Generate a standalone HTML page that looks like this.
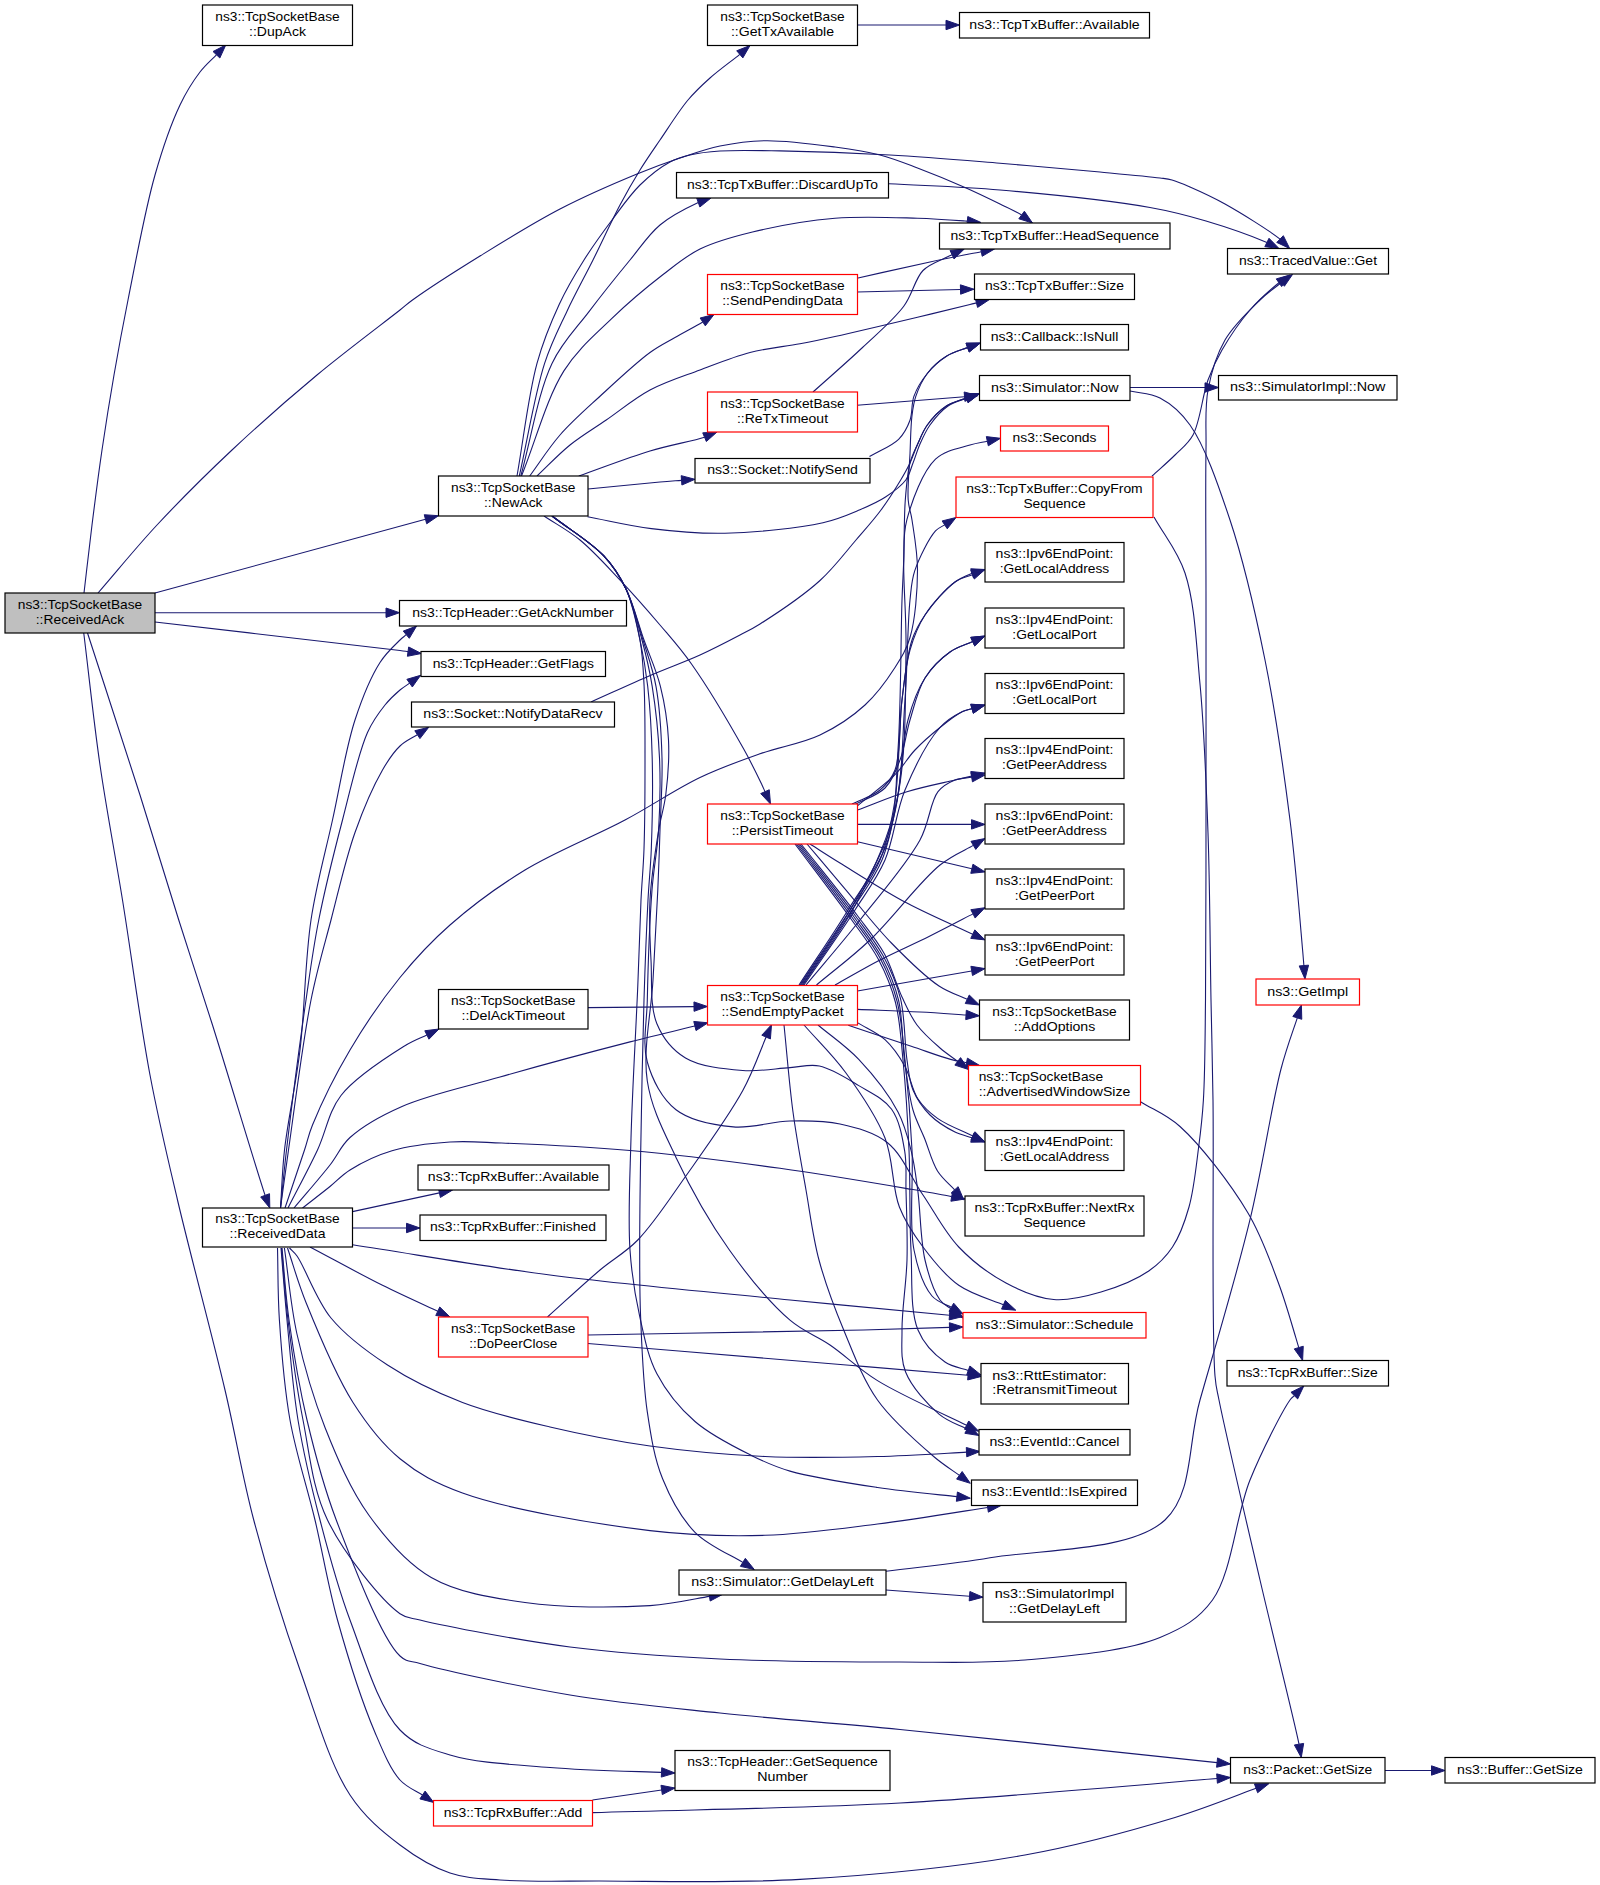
<!DOCTYPE html>
<html><head><meta charset="utf-8"><title>ns3::TcpSocketBase::ReceivedAck call graph</title>
<style>html,body{margin:0;padding:0;background:#fff;}svg{display:block;font-family:"Liberation Sans",sans-serif;}</style>
</head><body>
<svg width="1600" height="1885" viewBox="0 0 1600 1885">
<rect width="1600" height="1885" fill="#fff"/>
<g fill="none" stroke="#191970" stroke-width="1.1">
<path d="M84,593 C86.67,570.33 89.09,548.21 92,525 C95.06,500.6 98.34,474.98 102,450 C105.67,424.98 109.67,399.97 114,375 C118.34,349.97 122.34,328.13 128,300 C135.33,263.58 144.9,210.39 155,175 C162.7,148.02 171.13,123.64 180,105 C186.39,91.57 193.16,80.93 200,72 C205.37,64.98 211.73,59.7 216.43,54.77"/>
<path d="M98,593 C117.67,570.33 135.72,547.84 157,525 C180.1,500.21 205.82,474.6 232,450 C259.07,424.57 288.49,398.71 317,375 C344.5,352.13 384.55,322.23 400,310 C406.02,305.23 406.53,304.32 412.5,300 C425.9,290.31 456.37,270.63 480,256 C505.36,240.3 533.22,222.9 560,209 C585.57,195.73 614.91,183.12 637,174 C653.27,167.28 665.85,162.75 680,158 C693.5,153.47 706.07,148.87 720,146 C734.67,142.98 749.11,140.9 766,140.7 C786.67,140.46 814.5,144.25 835,147 C851.65,149.24 865.82,151.31 880,155 C893.21,158.44 904.34,163.02 917.5,168 C932.47,173.66 950.45,181.09 965,187.5 C977.63,193.07 989.77,198.98 1000,204 C1008.1,207.97 1015.75,211.4 1021.61,215.02"/>
<path d="M155,593 L425.48,519.25"/>
<path d="M155,612.7 L386,612.7"/>
<path d="M155,622 C236.67,631.5 374.97,647.29 400,650.5 C404.54,651.08 405.01,651.2 408.03,651.63"/>
<path d="M87.5,633 C105,687 123.97,744.45 140,795 C154.05,839.32 166.18,880.18 178.75,920 C190.29,956.56 200.13,985.75 212.5,1025 C228.23,1074.91 256.9,1171.05 265.12,1195.34"/>
<path d="M83.75,633 C89.17,677 93.6,720.82 100,765 C106.49,809.82 114.74,852.07 122.5,900 C131.33,954.53 139.96,1021.7 150,1075 C158.53,1120.3 166.71,1154.07 177.5,1200 C190.85,1256.81 211.47,1332.57 225,1390 C236.15,1437.35 241.95,1475.36 253.75,1520 C266.56,1568.47 283.24,1622.6 300,1670 C315.52,1713.9 329.66,1764.16 350,1795 C364.74,1817.35 382.36,1831.65 400,1845 C415.88,1857.02 432.77,1867.2 450,1873 C466.17,1878.45 480.42,1878.54 500,1880 C527.56,1882.06 560.95,1880.96 600,1881 C655.23,1881.06 731.47,1883.38 800,1879.4 C872.9,1875.17 957.94,1866.96 1025,1855 C1080.43,1845.11 1132.9,1830.3 1175,1817.5 C1206.42,1807.94 1240.72,1793.84 1256.05,1788.32"/>
<path d="M280.5,1208 C281.83,1188.67 282.05,1171.89 284.5,1150 C287.73,1121.12 295.74,1085.6 300,1050 C304.84,1009.58 304.99,960.32 311,920 C316.33,884.3 325.17,853.32 332.5,820 C339.84,786.65 345.73,748.38 355,720 C362.25,697.8 370.91,676.74 380,662.5 C386.3,652.63 395.08,644.79 400,640 C402.57,637.5 403.93,636.69 406.28,634.7"/>
<path d="M280.5,1208 C282.5,1188.67 283.72,1173.82 286.5,1150 C290.98,1111.64 299.9,1042.17 306,1000 C310.46,969.14 313.19,948.04 318.75,920 C325.01,888.41 334.1,852.13 342.5,820 C350.4,789.77 358.28,753 367.5,732.5 C373.02,720.23 378.96,712.52 385,705 C389.87,698.93 395.4,693.89 400,690 C403.43,687.1 406.3,685.5 409.61,683.14"/>
<path d="M280.5,1208 C283.17,1188.67 285.07,1173.83 288.5,1150 C294.02,1111.65 302.61,1042.04 311,1000 C317.18,969 323.86,947.22 331,920 C338.48,891.45 345.63,858.91 355,832.5 C363.13,809.59 373.53,785.59 382.5,770 C388.42,759.72 393.57,752.1 400,746 C405.38,740.9 412.21,738.04 417.39,734.67"/>
<path d="M288,1208 C297.83,1188.67 308.5,1169.17 317.5,1150 C326.09,1131.69 328.39,1111.82 341,1095.5 C355.69,1076.49 388.32,1056.14 404.5,1046 C413.51,1040.35 420.56,1038.08 426.89,1034.97"/>
<path d="M294,1208 C306,1193.67 319.93,1177.89 330,1165 C337.84,1154.96 340.63,1146.07 350,1137.5 C362.51,1126.06 381.27,1115.54 402,1106.4 C428.93,1094.53 464.96,1086.99 500,1077 C540.2,1065.54 594.07,1051.15 630,1041.9 C655.3,1035.39 681.47,1029.3 694.89,1026.01"/>
<path d="M302.5,1208 C311.67,1200.83 321.6,1193.25 330,1186.5 C337.24,1180.69 341.7,1175.2 350,1170 C361.08,1163.06 376.52,1155.41 392,1150.8 C409.45,1145.6 431.18,1143.24 450,1142 C467.65,1140.84 480.56,1142.18 501.6,1143 C534.82,1144.29 585.6,1146.57 630,1150.5 C678.12,1154.76 731.73,1161.58 780,1168.3 C825.28,1174.61 880.03,1183.99 911.25,1189.3 C928.61,1192.26 941.89,1194.83 951.71,1196.6"/>
<path d="M352.5,1211.6 L439.4,1192.85"/>
<path d="M352.5,1228 L406.5,1228"/>
<path d="M352.5,1244.8 C418.33,1254.87 480.85,1266.12 550,1275 C625.99,1284.76 718.12,1292.83 790,1300 C848.58,1305.84 925.63,1312.94 949.56,1315.22"/>
<path d="M310,1247 C334.17,1259.77 359.84,1274 382.5,1285.3 C402.05,1295.05 425.99,1305.73 437.78,1311.26"/>
<path d="M289.5,1248 C292,1250.67 293.95,1251.79 297,1256 C304.76,1266.7 316.13,1299.96 331,1318 C346.16,1336.39 366.46,1351.25 387.5,1365 C409.98,1379.69 436.02,1392.28 462.5,1402.5 C490.06,1413.14 519.7,1419.89 550,1427 C582.07,1434.52 615.38,1441.14 650,1446 C686.87,1451.17 726.84,1454.76 765,1456.5 C802.67,1458.22 842.2,1457.36 877.5,1456.5 C908.92,1455.73 949.89,1452.97 966.52,1452.16"/>
<path d="M287.5,1248 C293.67,1266.17 297.68,1281.86 306,1302.5 C317.53,1331.09 335.37,1374.85 353,1402.5 C367.36,1425.02 381.58,1443.61 400,1458.75 C418.16,1473.68 435.1,1483.01 462.5,1493 C507.38,1509.36 594.87,1523.99 650,1530.6 C692.77,1535.73 726.92,1536.43 765,1535.3 C802.75,1534.18 840.25,1528.66 877.5,1524 C914.47,1519.38 968.69,1510.34 987.65,1507.5"/>
<path d="M284.4,1248 C288.57,1276.58 290.48,1304.77 296.9,1333.75 C303.72,1364.55 313.02,1397.29 325,1427.5 C336.97,1457.7 350.41,1489.55 368.75,1515 C386.19,1539.19 406.02,1562.96 431.25,1577.5 C457.68,1592.74 491.2,1597.64 525,1602.5 C563.38,1608.01 616.07,1607.8 650,1605.6 C673.54,1604.08 696.72,1598.35 709.46,1596.37"/>
<path d="M281.5,1248 C283.67,1272 284.89,1294.08 288,1320 C291.68,1350.65 296.46,1386.82 303,1420 C309.6,1453.48 312.41,1488.7 327.5,1520 C343.69,1553.59 381.68,1601.01 400,1613.75 C407.7,1619.11 410.12,1617.58 420,1620 C446.64,1626.53 519.84,1640.5 570,1647 C619.84,1653.46 667.68,1656.47 720,1659 C777.23,1661.76 845.45,1661.98 900,1662 C945.45,1662.02 982.68,1663.84 1025,1660 C1069.28,1655.98 1126.57,1651.35 1160,1637.5 C1182.95,1627.99 1198.57,1619.24 1212.5,1600 C1231.95,1573.14 1235.71,1515.45 1250,1480 C1262.06,1450.1 1282.88,1409.96 1290,1400 C1291.87,1397.39 1292.6,1397.36 1294.32,1395.61"/>
<path d="M282,1248 C284.33,1272 285.42,1294.11 289,1320 C293.25,1350.68 299.2,1386.87 307,1420 C314.9,1453.55 322.89,1484.66 336.25,1520 C352.29,1562.44 381.34,1638.77 400,1656 C407.04,1662.5 410.07,1660.61 420,1663.5 C446.6,1671.23 519.82,1686.74 570,1695 C619.82,1703.2 667.68,1707.46 720,1713 C777.23,1719.06 831.59,1722.79 900,1729.5 C990.85,1738.41 1181,1758.83 1217.07,1762.6"/>
<path d="M281,1248 C283,1272 284.49,1294.05 287,1320 C289.96,1350.62 292.54,1386.81 298,1420 C303.51,1453.48 311.39,1486.83 320,1520 C328.7,1553.5 337.35,1586.31 350,1620 C363.6,1656.25 378.67,1707.86 400,1730 C414.51,1745.06 429.85,1748.9 450,1755 C477.05,1763.19 515.7,1764.61 550,1767.5 C586.1,1770.55 642.33,1771.56 661.51,1772.41"/>
<path d="M277.5,1248 C278.13,1272 277.69,1294.07 279.4,1320 C281.42,1350.64 284.13,1386.87 290,1420 C295.94,1453.54 307.07,1486.62 315,1520 C322.9,1553.29 328.01,1585.93 337.5,1620 C347.7,1656.65 362.57,1703.35 375,1732.5 C383.36,1752.11 390.36,1769.3 400,1780 C406.85,1787.59 416.3,1790.87 422.52,1795.01"/>
<path d="M285,1208 C291.5,1188.67 299.47,1165.34 304.5,1150 C307.8,1139.95 308.28,1135.36 312.5,1125 C320.04,1106.48 335.64,1074.3 350,1050 C364.71,1025.1 382.44,999.11 400,977.5 C415.93,957.89 430.8,941.88 450,925 C471.75,905.88 497.42,886.84 525,870 C555.24,851.54 594.26,836.38 625,820 C652,805.61 676.01,788.98 700,777.5 C720.76,767.57 739.87,760.87 760,753.75 C779.87,746.72 801.99,743.6 820,735 C836.71,727.02 852.26,716.68 865,705 C877.01,693.99 887.19,679.71 895,667.5 C901.53,657.3 906.34,649.9 910,637.5 C915.21,619.86 917.49,590.82 917.5,570 C917.51,552.09 913.93,532.89 912,520 C910.77,511.8 908.8,508.09 908.2,500 C907.29,487.8 909.33,468.39 910,453.7 C910.61,440.35 910.69,426.01 912,415.5 C912.94,408 913.57,402.9 915.8,396.4 C918.36,388.94 922.21,380.18 927.3,373.5 C932.4,366.81 939.46,360.66 946.4,356.3 C952.96,352.18 961.43,350.01 967.62,347.62"/>
<path d="M519.3,476 C527.73,438.47 534.88,393.42 544.6,363.4 C551.4,342.38 558.88,328.55 566.9,311.4 C575,294.08 584.29,277.45 593,260 C601.98,242.01 611.43,221.15 620,205 C626.95,191.9 633.14,181.1 640,170 C646.49,159.5 652.71,150.67 660,140 C668.49,127.58 678.75,111.03 688,100 C695.39,91.2 701.89,85.24 710,78 C718.97,69.99 732.49,60.36 739.78,54.32"/>
<path d="M517,476 C523.67,438.47 528.41,394.65 537,363.4 C543.4,340.11 551.02,322.03 559.4,304 C566.87,287.93 575.15,274.1 584,260 C592.71,246.12 602.46,232.74 612,220 C621.14,207.79 629.86,194.94 640,185 C649.32,175.87 660.63,167.06 670,162 C677.02,158.21 682.56,156.78 690,155 C698.89,152.87 708.25,151.79 720,151 C736.54,149.89 757,150.49 780,150.9 C811.16,151.45 853.35,152.94 890,155 C926.69,157.06 964.22,160.34 1000,163.25 C1034.14,166.02 1070.91,169.27 1100,172 C1122.55,174.11 1147.66,176.36 1160,178 C1165.54,178.74 1167.66,178.81 1172,180 C1177.46,181.5 1183.08,183.98 1190,187 C1199.82,191.29 1212.24,196.87 1225,204 C1241.52,213.23 1269.44,230.66 1280.04,239.07"/>
<path d="M520.8,476 C531.2,438.47 537.94,392.83 552,363.4 C562.4,341.63 576.29,328.52 589.2,311.4 C602.28,294.05 617.31,275.39 630,260 C640.64,247.11 648.48,234.63 660,225 C671.3,215.55 688.8,206.97 698.29,202.54"/>
<path d="M521.5,476 C535.63,440.97 546.44,398.64 563.9,370.9 C577.67,349.03 594.69,335.1 611.4,318.9 C627.88,302.93 647.28,286.73 663.4,274.3 C676.39,264.28 686.14,255.85 700,249 C715.44,241.37 732.83,236.8 752.5,232 C776.71,226.1 807.41,220.53 835,218.25 C862.41,215.98 893.78,217.56 917.5,218.25 C935.51,218.77 959.24,220.58 965,221 C966.28,221.09 966.25,221.11 967.35,221.21"/>
<path d="M529.7,476 C539.8,462.33 548.6,448.03 560,435 C571.91,421.38 585.75,409.37 600,396.25 C615.57,381.91 635.79,362.85 650,352.5 C659.41,345.64 666.41,342.49 675,337.5 C683.97,332.29 695.59,326.27 702.73,321.92"/>
<path d="M537,476 C548,465.67 558.37,454.39 570,445 C581.47,435.74 593.59,428.7 606.25,420 C620.14,410.45 634.44,398.31 650,390 C665.68,381.62 683.26,376.27 700,370 C716.6,363.78 733.15,356.89 750,352.5 C766.49,348.2 784.84,346.65 800,343.75 C812.72,341.32 820.89,339.61 835,336.5 C856.72,331.72 893.11,323.06 917.5,317.25 C936.98,312.61 960.93,306.76 970,304.5 C973.18,303.71 973.91,303.5 976.42,302.85"/>
<path d="M578.75,476 C602.5,467.67 627.69,457.72 650,451 C669.25,445.2 692.87,441.08 704.54,437.19"/>
<path d="M588,489 C612,486.67 643.02,483.48 660,482 C669.28,481.19 675.2,480.83 681.54,480.34"/>
<path d="M587.5,516.7 C608.8,520.67 629.26,525.86 651.4,528.6 C674.98,531.52 698.74,533.78 725,533.2 C755.36,532.53 798.38,528.27 823,522.7 C838.53,519.19 848.94,514.38 860,509.7 C869.43,505.72 877.75,502.07 885.5,497 C892.97,492.11 901.15,486.28 905.8,480 C909.68,474.76 910.68,468.85 913,463 C915.43,456.87 917.22,450.24 920,444 C922.86,437.57 925.67,431.05 930,425 C934.78,418.32 941.44,410.51 948,406 C953.74,402.05 960.88,400.44 966.51,398.33"/>
<path d="M544,516 C556,524 568.19,530.31 580,540 C593.44,551.02 606.53,565.75 619.6,579.6 C633.21,594.03 647.53,610.3 660,625 C671.32,638.35 680.23,648.04 691.5,664 C707.45,686.59 731.39,727.06 744,749.6 C751.93,763.77 758.57,777.83 762,785 C763.47,788.08 763.84,789.11 764.99,791.68"/>
<path d="M552,516 C569.2,529.23 590.71,541.96 603.6,555.7 C613.72,566.49 620.12,576.17 626,589 C632.75,603.72 636.99,623.28 640,640 C642.82,655.68 643.24,669.17 644.1,686.3 C645.17,707.58 644.98,732.68 645,758 C645.02,786.53 644.91,823.04 644,849 C643.32,868.45 641.92,880.81 641,900 C639.81,924.83 639.14,952.89 637.8,985.5 C636.01,1029.09 632.25,1091.34 631,1138.3 C629.93,1178.43 627.8,1217.65 630,1250 C631.71,1275.07 635.01,1295.25 639.7,1316.4 C644.13,1336.37 647.77,1356.26 656.9,1373.7 C666.13,1391.33 679.57,1408 695,1421.5 C711.14,1435.63 734.97,1447.22 752.4,1455.9 C765.97,1462.66 774.58,1466.59 790,1471.1 C812.84,1477.78 848.97,1483.19 877.5,1487.5 C904.53,1491.59 941.47,1494.88 956.89,1496.65"/>
<path d="M552,516 C569.2,529.23 590.71,541.96 603.6,555.7 C613.72,566.49 620.12,576.17 626,589 C632.75,603.72 636.33,623.32 640,640 C643.45,655.72 645.74,669.13 647.7,686.3 C650.13,707.54 651.53,732.66 652.2,758 C652.95,786.51 652.27,823.04 651.3,849 C650.57,868.46 649.04,880.16 648,900 C646.55,927.77 645.14,962.9 644,1000 C642.57,1046.54 641.31,1111.85 640.6,1157.4 C640.05,1192.33 639.65,1221.69 639.7,1250 C639.75,1273.97 639.59,1292.28 640.6,1316.4 C641.81,1345.36 643.01,1383.04 647.3,1411.9 C650.93,1436.33 654.32,1458.35 662.6,1478.8 C670.5,1498.32 681.13,1518.21 695,1532.3 C708.18,1545.7 732.36,1555.8 742.84,1562.36"/>
<path d="M552,516 C569.2,529.23 590.71,541.96 603.6,555.7 C613.72,566.49 619.85,576.21 626,589 C633.09,603.76 637.55,623.32 642,640 C646.19,655.71 649.44,669.1 652.2,686.3 C655.6,707.51 658.43,734.04 659.5,758 C660.57,781.94 660,807.13 658.6,830 C657.32,850.94 653.76,866.96 652,890 C649.63,921.12 647.97,968.55 647.3,1000 C646.8,1023.6 642.12,1043.33 647.3,1062 C652.21,1079.69 662.08,1098.89 676,1109.7 C690.43,1120.9 714.07,1125.09 733.3,1126.9 C752.07,1128.67 771.68,1121.4 790,1121 C807.17,1120.62 823.82,1120.42 840,1124 C856.33,1127.62 874.13,1132.05 887.5,1142.75 C902.38,1154.66 911.12,1177.62 923,1195 C934.87,1212.37 944.64,1232.19 958.75,1247 C972.44,1261.37 989.46,1274.14 1006,1283 C1021.25,1291.17 1037.7,1298.09 1053.75,1299.5 C1069.37,1300.87 1085.5,1296.56 1101,1292 C1117.19,1287.24 1136.2,1279.63 1148.75,1271 C1158.85,1264.06 1166.02,1256.77 1172.5,1247 C1179.84,1235.94 1184.78,1221.93 1189,1207 C1193.98,1189.38 1196.14,1166.25 1198.6,1147.5 C1200.79,1130.81 1202.26,1118.77 1203.4,1100 C1205.06,1072.83 1205.04,1039.05 1205.5,1000 C1206.15,944.77 1205.92,866.67 1206,800 C1206.08,733.33 1206,661.88 1206,600 C1206,546.41 1205.35,488.74 1206,450 C1206.41,425.49 1204.56,408.85 1208,390 C1211.23,372.32 1216.36,354.98 1225,340 C1233.67,324.97 1249.32,310.28 1260,300 C1267.72,292.56 1275.59,287.13 1281.61,282.48"/>
<path d="M552,516 C569.2,529.23 590.71,541.96 603.6,555.7 C613.72,566.49 619.6,576.26 626,589 C633.43,603.79 638.14,623.41 644,640 C649.59,655.81 656.35,670.09 660.4,686.3 C664.66,703.34 667.6,721.99 668.5,740 C669.41,758.05 667.81,778.26 665.8,794.5 C664.15,807.84 660.87,816.57 658.6,830.6 C655.48,849.94 651.19,877.67 650,900 C648.9,920.69 649.89,939.72 651,960 C652.14,980.94 649.79,1006.58 656.9,1023.7 C662.84,1038 672.64,1050.2 685.5,1058 C700.23,1066.94 724.53,1069.1 742.8,1070.5 C759.2,1071.76 776.12,1068.4 790,1067.6 C800.95,1066.97 809.18,1063.89 819.4,1066 C831.89,1068.58 846.5,1078.22 858.75,1085.6 C870.5,1092.68 883.96,1098.61 891.6,1109.2 C899.57,1120.24 902.35,1137.32 904.7,1151.2 C906.91,1164.24 905.65,1175.17 906,1190 C906.48,1209.91 907.67,1236.68 907,1260 C906.33,1283.35 901.86,1309.64 902,1330 C902.11,1345.78 900.32,1358.72 905.6,1372 C911.59,1387.06 927.55,1404.62 939.3,1414.4 C948.26,1421.85 959.75,1425.27 967.08,1429.16"/>
<path d="M552,516 C569.2,529.23 590.71,541.96 603.6,555.7 C613.72,566.49 619.72,576.24 626,589 C633.26,603.77 637.89,623.35 643,640 C647.83,655.75 652.88,669.02 656,686.3 C659.82,707.44 661.33,734.06 662,758 C662.67,781.96 660.74,807.09 660,830 C659.33,850.91 658.79,867.98 657.8,890 C656.59,916.97 654.69,949.14 653,980 C651.21,1012.7 642.59,1050.13 647.3,1081 C651.53,1108.73 663.64,1131.23 676,1157.4 C690.14,1187.35 709.59,1222.11 729.4,1250 C747.85,1275.98 770.67,1303.69 790,1320.2 C803.77,1331.96 816.31,1335.65 830,1345 C845.38,1355.5 858.58,1368.91 877.5,1380.6 C902.02,1395.75 950.64,1417.17 966.63,1425.16"/>
<path d="M857.5,25 L946,25"/>
<path d="M888.75,183.75 C925.83,185.83 960.21,186.56 1000,190 C1046.33,194 1112.23,200.77 1150,207.5 C1173.33,211.66 1187.08,215.4 1206,221 C1226.03,226.93 1254.51,237.2 1266.93,242.46"/>
<path d="M857,278.2 C881.33,272.8 907.79,266.7 930,262 C948.57,258.07 969.75,253.99 981.27,251.67"/>
<path d="M857,292 L960.5,289.52"/>
<path d="M813,392 C829.5,377.17 846.94,362.26 862.5,347.5 C877.07,333.68 893.3,320.29 903.75,306.25 C912.47,294.54 914.98,278.71 923,270.5 C929.33,264.02 939.65,260.76 945,258 C947.97,256.47 949.39,255.95 952.06,254.71"/>
<path d="M857,405.3 L964.54,396.68"/>
<path d="M869.5,456.5 C879.2,450.77 891.67,446.2 898.6,439.3 C904.22,433.7 907.45,427.18 910,420.2 C912.66,412.93 911.16,404.01 913.9,396.4 C916.78,388.41 921.82,380.22 927.3,373.5 C932.69,366.88 939.46,360.66 946.4,356.3 C952.96,352.18 961.43,350.01 967.62,347.62"/>
<path d="M591,702 C611.13,693 632.3,683.2 651.4,675 C668.42,667.69 684.71,661.96 700,655 C714.11,648.58 729,640.77 740,635 C747.86,630.88 751.75,629.23 760,624 C774.86,614.58 803.22,595.69 820,580.5 C834.35,567.51 845.18,552.57 856,540 C865.18,529.33 873.42,520.22 881,510 C888.26,500.2 895.49,488.68 900.7,480 C904.53,473.62 907.2,468.91 910,463 C912.88,456.92 914.85,450.27 917.7,444 C920.6,437.61 922.94,431 927.3,425 C932.2,418.25 939.44,410.57 946.4,406 C952.64,401.89 960.57,400.17 966.55,397.94"/>
<path d="M1130,387.5 L1205,387.5"/>
<path d="M1130,391 C1140,393.33 1150.59,393.09 1160,398 C1170.77,403.62 1180.64,411.84 1190,425 C1204.96,446.04 1218.26,484.77 1230,520 C1243.89,561.68 1255.18,611.55 1265,660 C1275.4,711.33 1283.59,769.34 1290,820 C1295.75,865.49 1300.6,927.73 1302.6,950 C1303.29,957.7 1303.47,960.55 1303.89,965.55"/>
<path d="M1152,476 C1159.67,469 1167.96,462.09 1175,455 C1181.54,448.41 1188.04,444.08 1193,435 C1200.21,421.78 1202.36,395.38 1208,380 C1212.3,368.28 1215.97,360.44 1222,350 C1229.32,337.32 1239.95,321.62 1250,310 C1259.07,299.52 1271.39,288.89 1278.94,282.74"/>
<path d="M1154,517 C1164.33,535.67 1177.49,550.33 1185,573 C1194.94,602.99 1196.25,644.2 1200,684 C1204.33,729.94 1206.17,781.9 1208,833 C1209.94,887.06 1210.08,951.43 1211,1000 C1211.71,1037.58 1212.43,1058.38 1213,1100 C1213.94,1169.14 1211.38,1334.16 1215,1376 C1216.07,1388.42 1216.7,1388.33 1219,1400 C1225.33,1432.15 1246.36,1521.41 1260,1580 C1273.04,1636.02 1294.12,1719.88 1299.03,1744.18"/>
<path d="M1140.5,1101.7 C1153.67,1109.97 1166.22,1114.11 1180,1126.5 C1201.12,1145.48 1230.71,1184.07 1247.7,1212.5 C1262.04,1236.5 1270.47,1261.79 1278.8,1284 C1285.81,1302.68 1292.12,1325.6 1295.5,1336.6 C1297.04,1341.61 1297.63,1343.75 1298.76,1347.56"/>
<path d="M1385,1770.5 L1431.5,1770.5"/>
<path d="M588,1007.6 L694,1006.62"/>
<path d="M547.5,1317 C565,1301.33 583.74,1283.71 600,1270 C613.45,1258.66 625.29,1252.85 637.8,1240 C653.85,1223.52 669.2,1199.51 685.5,1176.5 C704.08,1150.26 728.7,1116.43 742.8,1090.6 C753.4,1071.18 761.06,1048.66 766.11,1037.08"/>
<path d="M587.8,1335 C679.67,1333.33 797.53,1331.59 863.4,1330 C900.23,1329.11 933.23,1327.9 949.51,1327.41"/>
<path d="M587.8,1343.5 C674.97,1350.73 779.12,1359.32 849.3,1365.2 C896.6,1369.17 948.11,1373.57 968.05,1375.26"/>
<path d="M885.9,1590 L969.54,1596.2"/>
<path d="M885.9,1571.3 C920.6,1566.8 950.98,1564.53 990,1557.8 C1040.96,1549.01 1130.84,1551.82 1165,1520 C1193.54,1493.42 1187.45,1444.1 1200,1400 C1215.35,1346.04 1236.1,1277.33 1250,1219.7 C1262.61,1167.44 1271.38,1105.8 1281,1069 C1286.68,1047.27 1293.67,1029.25 1297.3,1017.86"/>
<path d="M592.5,1800 L661.64,1789.94"/>
<path d="M592.5,1812.6 C695,1809.4 796.78,1808.59 900,1803 C1004.94,1797.32 1180.93,1781.32 1217.04,1778.54"/>
<path d="M852,804 C861.33,799.33 872.64,796.14 880,790 C886.58,784.51 891.35,779.37 895,770 C901.13,754.28 899.23,721.34 902,700 C904.35,681.9 905.67,664.95 910,650 C913.75,637.04 917.96,625.95 925,615 C932.61,603.15 945.8,589.03 955,582 C961.02,577.39 966.65,575.42 972.04,573.28"/>
<path d="M854,805 C864.33,799.33 877.26,795.81 885,788 C892.33,780.59 895.97,770.44 900,760 C904.59,748.1 905.94,733.4 910,720 C914.22,706.07 917.75,689.7 925,678 C931.52,667.48 941.25,658.21 950,652 C957.28,646.83 966.3,644.55 972.72,641.61"/>
<path d="M856,807 C869.23,795.97 885.23,784.54 895.7,773.9 C903.77,765.7 907.82,757.58 915,750 C922.51,742.07 931.68,734.15 940,727.5 C947.55,721.47 956.48,714.45 962.6,711.5 C966.25,709.74 968.64,709.75 972.03,708.76"/>
<path d="M857.5,810 C873.97,803.9 890.4,796.75 906.9,791.7 C922.9,786.81 943.07,782.84 955,780 C962.05,778.32 966.58,777.3 971.85,776.07"/>
<path d="M857.5,824.4 L971.5,824.4"/>
<path d="M857.5,841.8 L971.86,868.8"/>
<path d="M810,844 C820,850.33 827.97,855.58 840,863 C857.83,873.99 884.38,891.08 906.9,903.1 C928.66,914.71 959.57,927.92 972.79,934.15"/>
<path d="M807,844 C819.23,858.43 830.65,871.98 843.7,887.3 C858.54,904.72 874.95,926.11 891.4,943 C906.79,958.8 924.52,976.38 939,986 C949.1,992.72 959.8,995.76 967.28,999.27"/>
<path d="M801,844 C819.67,867.67 841.84,894.68 857,915 C868.02,929.76 876.97,940.23 884.5,954 C891.93,967.58 896.05,984.34 902,997 C906.92,1007.48 910.72,1016.54 917,1025 C923.36,1033.56 932.62,1041.58 940,1048 C946.1,1053.31 952.55,1057.46 957.72,1061.37"/>
<path d="M799.5,844 C818.17,868 840.34,895.38 855.5,916 C866.52,930.99 875.46,941.68 883,955.6 C890.4,969.27 896.5,982.76 900.5,998.7 C905.1,1017.05 904.44,1043.23 907,1060 C908.8,1071.82 909.14,1080.81 913,1090 C916.83,1099.13 923,1108 930,1115 C937,1122 947.19,1128.14 955,1132 C961.05,1134.99 966.88,1135.96 972.19,1137.73"/>
<path d="M796.5,844 C815.17,868.67 837.31,896.95 852.5,918 C863.49,933.22 872.53,943.98 880,958 C887.29,971.68 892.89,985.26 897,1001 C901.67,1018.86 902.68,1038.23 905,1060 C907.86,1086.81 910.49,1119.19 912,1150 C913.58,1182.43 908.71,1223.43 914,1250 C917.72,1268.67 923.86,1286.51 932,1296 C937.47,1302.38 945.69,1303.95 951.33,1307.22"/>
<path d="M795,844 C813.67,869 835.81,897.68 851,919 C861.99,934.42 871.03,945.37 878.5,959.5 C885.76,973.24 891.45,986.85 895.5,1002.5 C900.03,1020.02 900.9,1038.66 903,1060 C905.62,1086.62 907.67,1119.19 909,1150 C910.4,1182.44 909.31,1218.55 911,1250 C912.51,1278.18 909.78,1310.24 918,1330 C923.93,1344.27 935.38,1355.3 945,1362 C952.4,1367.15 961.71,1368.03 968.3,1370.41"/>
<path d="M798,844 C816.67,868.33 838.84,896.13 854,917 C865.01,932.16 874.03,942.98 881.5,957 C888.79,970.68 894.66,984.18 898.5,1000 C902.88,1018.06 901.93,1040.95 904.5,1060 C906.86,1077.47 908.99,1095.92 913,1110 C916.1,1120.87 920.49,1128.27 924.4,1138 C928.64,1148.54 931.84,1161.94 937.5,1171 C942.29,1178.67 949.84,1184.54 954.66,1189.82"/>
<path d="M800,985 C816.67,960 835.68,932.63 850,910 C861.52,891.8 872.53,878.02 880,860 C887.69,841.44 891.39,822.72 895,800 C899.59,771.07 898.57,729.03 902,700 C904.67,677.39 906.86,655.38 912,640 C915.5,629.53 919.07,623.52 925,615 C932.47,604.29 945.63,588.6 955,582 C961.12,577.69 967.19,576.92 972.54,574.69"/>
<path d="M802,985 C818.67,960 837.68,932.63 852,910 C863.52,891.8 874.53,878.02 882,860 C889.69,841.44 892.84,821.56 897,800 C901.76,775.37 902.1,742.11 908,720 C912.42,703.44 917.39,689.73 925,678 C931.79,667.53 941.25,658.21 950,652 C957.28,646.83 966.3,644.55 972.72,641.61"/>
<path d="M804,985 C821,960 840.51,932.66 855,910 C866.62,891.83 876.91,878.66 885,860 C894.05,839.15 895.78,812.16 905,790 C914.15,768.02 928.06,740.78 940,727.5 C947.43,719.25 956.48,714.45 962.6,711.5 C966.25,709.74 968.64,709.75 972.03,708.76"/>
<path d="M806,985 C824,963.33 841.82,943.03 860,920 C879.78,894.95 906.78,864.2 920,840 C929.49,822.63 930.19,801.71 938,791.7 C942.94,785.36 949.08,782.39 955,780 C960.36,777.84 966.44,778.09 971.68,777.22"/>
<path d="M816.5,985 C834.33,970 851.52,957.55 870,940 C892.39,918.74 919.91,881.12 940,865 C952.35,855.1 965.11,850.21 973.37,845.35"/>
<path d="M835,985 C850,976.67 864.56,967.98 880,960 C895.87,951.8 913.16,944.37 929,936.5 C944.11,928.99 962.93,919.05 972.99,913.87"/>
<path d="M857.5,991 C878.33,987.33 900.15,983.49 920,980 C938.05,976.83 960.1,972.97 971.7,970.93"/>
<path d="M857.5,1009.4 C878.33,1010.27 900.76,1010.99 920,1012 C936.52,1012.87 955.25,1014.25 966.03,1014.94"/>
<path d="M848.25,1025.2 C869.25,1032.22 892.71,1040.05 911.25,1046.25 C925.9,1051.15 940.34,1056.62 950.6,1059.4 C957.02,1061.14 961.44,1061.67 966.49,1062.73"/>
<path d="M857.4,1022.6 C866.6,1028.3 877.13,1032.5 885,1039.7 C892.92,1046.95 899.29,1056.36 904.7,1066 C910.31,1075.98 911.83,1089.71 917.8,1098.75 C923.1,1106.78 929.41,1112.59 937.5,1118.4 C947.14,1125.32 964.2,1131.67 972.91,1135.99"/>
<path d="M799,985 C815.33,960 832.84,934.79 848,910 C862.39,886.48 879.61,865.75 888,840 C896.89,812.71 895.67,783.87 898,750 C901,706.41 900.8,634.05 902,600 C902.62,582.41 903.24,574.68 903.75,560 C904.38,542.02 903.96,517.57 905.3,500 C906.36,486.15 907.34,473.16 910,463 C911.97,455.47 914.85,450.27 917.7,444 C920.6,437.61 922.94,431 927.3,425 C932.2,418.25 939.44,410.57 946.4,406 C952.64,401.89 960.57,400.17 966.55,397.94"/>
<path d="M801,985 C818.33,958.33 837.62,932.61 853,905 C868.26,877.6 884.26,851.6 893,820 C902.9,784.19 902.14,738.21 905,700 C907.61,665.18 907.51,623.36 910,600 C911.36,587.28 911.4,580.93 914.8,570.7 C918.98,558.13 929.07,538 935.5,530.9 C938.68,527.38 941.48,526.99 944.7,524.89"/>
<path d="M803,985 C821.33,956.67 842.48,930.32 858,900 C873.98,868.78 888.79,837.42 897,800 C906.71,755.72 905.24,693.66 906,650 C906.59,616.2 903.11,584.04 903.75,560 C904.18,543.89 903.07,534.11 906.9,519.7 C911.83,501.16 922.61,471.45 935.5,459.2 C945.13,450.05 960.35,448.02 970,445 C976.65,442.92 981.94,442.38 987.31,441.2"/>
<path d="M818,1025 C831.58,1036.47 846.01,1045.89 858.75,1059.4 C872.87,1074.38 889.11,1094.97 898,1111.9 C905.07,1125.36 907.94,1137.96 911.25,1151.2 C914.5,1164.2 915.77,1175.58 917.8,1190.6 C920.48,1210.45 920.36,1240.29 925,1260 C928.63,1275.43 933.88,1291.65 940,1300 C943.71,1305.06 948.4,1306.58 952.37,1309.68"/>
<path d="M804,1025 C817.87,1040.83 832.65,1054.76 845.6,1072.5 C859.85,1092.02 876.02,1115.09 885,1138 C893.63,1160 891.9,1187.63 899.4,1207 C905.49,1222.72 913.51,1234.3 923,1247 C933.08,1260.49 945.04,1275.6 958.75,1285.3 C971.97,1294.65 993.16,1300.32 1003.43,1304.8"/>
<path d="M784,1025 C787,1054 789.2,1083.85 793,1112 C796.61,1138.77 801.55,1164.72 806,1190 C810.23,1213.98 812.82,1236.9 819,1260 C825.31,1283.58 834.09,1306.93 843.7,1330 C853.53,1353.61 862.64,1379.02 877.5,1400 C892.55,1421.24 918.14,1443.13 933.7,1456.5 C943.54,1464.96 952.65,1470.38 959.41,1475.32"/>
</g>
<g fill="#191970" stroke="#191970" stroke-width="1">
<polygon points="225.75,45 219.83,58.01 213.03,51.53"/>
<polygon points="1032.5,223 1018.83,218.81 1024.39,211.23"/>
<polygon points="438.5,515.7 426.71,523.79 424.24,514.72"/>
<polygon points="399.5,612.7 386,617.4 386,608"/>
<polygon points="421.4,653.5 407.38,656.28 408.68,646.97"/>
<polygon points="269.8,1208 260.71,1196.96 269.53,1193.71"/>
<polygon points="1268.75,1783.75 1257.64,1792.74 1254.46,1783.9"/>
<polygon points="416.6,626 409.31,638.3 403.25,631.11"/>
<polygon points="420.6,675.3 412.34,686.97 406.88,679.32"/>
<polygon points="428.7,727.3 419.95,738.61 414.82,730.73"/>
<polygon points="439,1029 428.97,1039.18 424.81,1030.75"/>
<polygon points="708,1022.8 696.01,1030.58 693.77,1021.45"/>
<polygon points="965,1199 950.88,1201.23 952.55,1191.98"/>
<polygon points="452.6,1190 440.4,1197.44 438.41,1188.25"/>
<polygon points="420,1228 406.5,1232.7 406.5,1223.3"/>
<polygon points="963,1316.5 949.11,1319.9 950.01,1310.54"/>
<polygon points="450,1317 435.78,1315.52 439.78,1307.01"/>
<polygon points="980,1451.5 966.75,1456.85 966.29,1447.46"/>
<polygon points="1001,1505.5 988.35,1512.15 986.95,1502.85"/>
<polygon points="722.8,1594.3 710.18,1601.02 708.74,1591.73"/>
<polygon points="1303.8,1386 1297.67,1398.91 1290.98,1392.31"/>
<polygon points="1230.5,1764 1216.58,1767.27 1217.56,1757.92"/>
<polygon points="675,1773 661.31,1777.1 661.72,1767.71"/>
<polygon points="433.75,1802.5 419.91,1798.92 425.12,1791.1"/>
<polygon points="980.3,343 969.22,352.04 966.01,343.21"/>
<polygon points="750,45.5 742.85,57.88 736.71,50.77"/>
<polygon points="1289.7,248.5 1276.76,242.43 1283.33,235.7"/>
<polygon points="711,198 699.87,206.97 696.71,198.11"/>
<polygon points="980.8,222.4 966.94,225.89 967.77,216.53"/>
<polygon points="714,314.5 705.31,325.85 700.14,318"/>
<polygon points="989.5,299.5 977.59,307.41 975.26,298.3"/>
<polygon points="717,432 706.35,441.53 702.73,432.85"/>
<polygon points="695,479.3 681.9,485.02 681.18,475.65"/>
<polygon points="979.3,394 968.02,402.78 965.01,393.87"/>
<polygon points="770.5,804 760.7,793.6 769.28,789.76"/>
<polygon points="970.3,1498.2 956.35,1501.32 957.43,1491.98"/>
<polygon points="754.3,1569.5 740.36,1566.35 745.33,1558.37"/>
<polygon points="1292.5,274.5 1284.39,286.27 1278.83,278.69"/>
<polygon points="979,1435.5 964.87,1433.31 969.28,1425.01"/>
<polygon points="978.7,1431.2 964.52,1429.37 968.73,1420.96"/>
<polygon points="959.5,25 946,29.7 946,20.3"/>
<polygon points="1279,248.5 1264.82,246.67 1269.03,238.26"/>
<polygon points="994.5,249 982.19,256.27 980.34,247.06"/>
<polygon points="974,289.2 960.62,294.22 960.39,284.82"/>
<polygon points="964.3,249 954.05,258.97 950.08,250.45"/>
<polygon points="978,395.6 964.92,401.36 964.17,391.99"/>
<polygon points="980.3,343 969.22,352.04 966.01,343.21"/>
<polygon points="979.3,393.5 968.09,402.37 965.01,393.5"/>
<polygon points="1218.5,387.5 1205,392.2 1205,382.8"/>
<polygon points="1305,979 1299.2,965.93 1308.57,965.16"/>
<polygon points="1290,275 1281.64,286.59 1276.25,278.89"/>
<polygon points="1301.25,1757.5 1294.39,1744.96 1303.67,1743.41"/>
<polygon points="1302.6,1360.5 1294.25,1348.9 1303.26,1346.22"/>
<polygon points="1445,1770.5 1431.5,1775.2 1431.5,1765.8"/>
<polygon points="707.5,1006.5 694.04,1011.32 693.96,1001.92"/>
<polygon points="771.5,1024.7 770.42,1038.95 761.8,1035.2"/>
<polygon points="963,1327 949.65,1332.1 949.36,1322.71"/>
<polygon points="981.5,1376.4 967.65,1379.94 968.44,1370.58"/>
<polygon points="983,1597.2 969.19,1600.89 969.88,1591.51"/>
<polygon points="1301.4,1005 1301.78,1019.29 1292.82,1016.44"/>
<polygon points="675,1788 662.32,1794.59 660.96,1785.29"/>
<polygon points="1230.5,1777.5 1217.4,1783.22 1216.68,1773.85"/>
<polygon points="985,569.5 973.36,577.79 970.72,568.77"/>
<polygon points="985,636 974.68,645.89 970.77,637.34"/>
<polygon points="985,705 973.34,713.28 970.73,704.25"/>
<polygon points="985,773 972.92,780.64 970.79,771.49"/>
<polygon points="985,824.4 971.5,829.1 971.5,819.7"/>
<polygon points="985,871.9 970.78,873.37 972.94,864.22"/>
<polygon points="985,939.9 970.78,938.4 974.79,929.89"/>
<polygon points="979.5,1005 965.28,1003.52 969.27,995.01"/>
<polygon points="968.5,1069.5 954.89,1065.12 960.55,1057.62"/>
<polygon points="985,1142 970.71,1142.19 973.68,1133.27"/>
<polygon points="963,1314 948.97,1311.29 953.69,1303.16"/>
<polygon points="981,1375 966.71,1374.84 969.9,1365.99"/>
<polygon points="963.75,1199.8 951.18,1192.99 958.13,1186.66"/>
<polygon points="985,569.5 974.35,579.03 970.73,570.35"/>
<polygon points="985,636 974.68,645.89 970.77,637.34"/>
<polygon points="985,705 973.34,713.28 970.73,704.25"/>
<polygon points="985,775 972.46,781.86 970.91,772.58"/>
<polygon points="985,838.5 975.75,849.4 970.98,841.3"/>
<polygon points="985,907.7 975.14,918.05 970.85,909.69"/>
<polygon points="985,968.6 972.51,975.56 970.89,966.3"/>
<polygon points="979.5,1015.8 965.73,1019.63 966.33,1010.25"/>
<polygon points="979.7,1065.5 965.52,1067.33 967.45,1058.13"/>
<polygon points="985,1142 970.82,1140.2 975,1131.78"/>
<polygon points="979.3,393.5 968.09,402.37 965.01,393.5"/>
<polygon points="956,517.5 947.27,528.82 942.13,520.95"/>
<polygon points="1000.5,438.3 988.32,445.79 986.31,436.61"/>
<polygon points="963,1318 949.47,1313.38 955.27,1305.98"/>
<polygon points="1015.8,1310.2 1001.55,1309.11 1005.31,1300.49"/>
<polygon points="970.3,1483.3 956.63,1479.12 962.18,1471.53"/>
</g>
<g stroke-width="1.2">
<rect x="5" y="593" width="150" height="40" fill="#bfbfbf" stroke="#000"/>
<rect x="202.5" y="5" width="150" height="40.5" fill="#fff" stroke="#000"/>
<rect x="438.5" y="476" width="149.5" height="40" fill="#fff" stroke="#000"/>
<rect x="399.5" y="600.5" width="227" height="25.5" fill="#fff" stroke="#000"/>
<rect x="421" y="651.5" width="184.5" height="25" fill="#fff" stroke="#000"/>
<rect x="411.5" y="702" width="203" height="25" fill="#fff" stroke="#000"/>
<rect x="438.5" y="989.5" width="149.5" height="39.5" fill="#fff" stroke="#000"/>
<rect x="202.5" y="1208" width="150" height="39" fill="#fff" stroke="#000"/>
<rect x="418" y="1165" width="191" height="25" fill="#fff" stroke="#000"/>
<rect x="420" y="1215" width="186" height="25.5" fill="#fff" stroke="#000"/>
<rect x="438.5" y="1317" width="149.5" height="40" fill="#fff" stroke="#ff0000"/>
<rect x="433.5" y="1800.5" width="159" height="25.5" fill="#fff" stroke="#ff0000"/>
<rect x="707.5" y="5" width="150" height="40.5" fill="#fff" stroke="#000"/>
<rect x="676.5" y="172.5" width="212" height="25.5" fill="#fff" stroke="#000"/>
<rect x="707.5" y="274.5" width="150" height="40" fill="#fff" stroke="#ff0000"/>
<rect x="707.5" y="392" width="150" height="40" fill="#fff" stroke="#ff0000"/>
<rect x="695" y="458.5" width="175" height="24.5" fill="#fff" stroke="#000"/>
<rect x="707.5" y="804" width="150" height="40" fill="#fff" stroke="#ff0000"/>
<rect x="707.5" y="985.5" width="150" height="39.5" fill="#fff" stroke="#ff0000"/>
<rect x="679" y="1570" width="207" height="25" fill="#fff" stroke="#000"/>
<rect x="675" y="1750.5" width="215" height="40" fill="#fff" stroke="#000"/>
<rect x="959.5" y="12.5" width="190" height="25.5" fill="#fff" stroke="#000"/>
<rect x="939.5" y="223" width="230.5" height="26" fill="#fff" stroke="#000"/>
<rect x="974.5" y="274" width="160" height="25.5" fill="#fff" stroke="#000"/>
<rect x="980.5" y="324.5" width="148" height="25.5" fill="#fff" stroke="#000"/>
<rect x="979.5" y="375.5" width="150.5" height="25" fill="#fff" stroke="#000"/>
<rect x="1000.5" y="426" width="108" height="25" fill="#fff" stroke="#ff0000"/>
<rect x="956" y="477" width="197" height="40.5" fill="#fff" stroke="#ff0000"/>
<rect x="985" y="542.5" width="139" height="39.5" fill="#fff" stroke="#000"/>
<rect x="985" y="608" width="139" height="40" fill="#fff" stroke="#000"/>
<rect x="985" y="673.5" width="139" height="40" fill="#fff" stroke="#000"/>
<rect x="985" y="738.5" width="139" height="40" fill="#fff" stroke="#000"/>
<rect x="985" y="804" width="139" height="40" fill="#fff" stroke="#000"/>
<rect x="985" y="869" width="139" height="40" fill="#fff" stroke="#000"/>
<rect x="985" y="935" width="139" height="40" fill="#fff" stroke="#000"/>
<rect x="979.5" y="1000" width="150" height="40" fill="#fff" stroke="#000"/>
<rect x="968.5" y="1065.5" width="172" height="39.5" fill="#fff" stroke="#ff0000"/>
<rect x="985" y="1130.5" width="139" height="40" fill="#fff" stroke="#000"/>
<rect x="965" y="1196" width="179" height="40" fill="#fff" stroke="#000"/>
<rect x="963" y="1312.5" width="183" height="25.5" fill="#fff" stroke="#ff0000"/>
<rect x="981" y="1363.5" width="147.5" height="40.5" fill="#fff" stroke="#000"/>
<rect x="979" y="1429.5" width="151" height="25.5" fill="#fff" stroke="#000"/>
<rect x="971.5" y="1480" width="166" height="25.5" fill="#fff" stroke="#000"/>
<rect x="983" y="1582.5" width="143" height="39.5" fill="#fff" stroke="#000"/>
<rect x="1227.5" y="248.5" width="161" height="25.5" fill="#fff" stroke="#000"/>
<rect x="1218.5" y="375.5" width="178.5" height="24.5" fill="#fff" stroke="#000"/>
<rect x="1256" y="979" width="103.5" height="26" fill="#fff" stroke="#ff0000"/>
<rect x="1227" y="1360.5" width="161.5" height="25.5" fill="#fff" stroke="#000"/>
<rect x="1230.5" y="1757.5" width="154.5" height="25.5" fill="#fff" stroke="#000"/>
<rect x="1445" y="1757.5" width="150" height="25.5" fill="#fff" stroke="#000"/>
</g>
<g font-family="Liberation Sans, sans-serif" font-size="13.2" fill="#000" lengthAdjust="spacingAndGlyphs">
<text lengthAdjust="spacingAndGlyphs" x="17.8" y="608.8" textLength="124.4">ns3::TcpSocketBase</text>
<text lengthAdjust="spacingAndGlyphs" x="35.78" y="623.6" textLength="88.45">::ReceivedAck</text>
<text lengthAdjust="spacingAndGlyphs" x="215.3" y="21.05" textLength="124.4">ns3::TcpSocketBase</text>
<text lengthAdjust="spacingAndGlyphs" x="249.1" y="35.85" textLength="56.8">::DupAck</text>
<text lengthAdjust="spacingAndGlyphs" x="451.05" y="491.8" textLength="124.4">ns3::TcpSocketBase</text>
<text lengthAdjust="spacingAndGlyphs" x="483.95" y="506.6" textLength="58.6">::NewAck</text>
<text lengthAdjust="spacingAndGlyphs" x="412.31" y="616.85" textLength="201.38">ns3::TcpHeader::GetAckNumber</text>
<text lengthAdjust="spacingAndGlyphs" x="432.66" y="667.6" textLength="161.18">ns3::TcpHeader::GetFlags</text>
<text lengthAdjust="spacingAndGlyphs" x="423.31" y="718.1" textLength="179.38">ns3::Socket::NotifyDataRecv</text>
<text lengthAdjust="spacingAndGlyphs" x="451.05" y="1005.05" textLength="124.4">ns3::TcpSocketBase</text>
<text lengthAdjust="spacingAndGlyphs" x="461.48" y="1019.85" textLength="103.54">::DelAckTimeout</text>
<text lengthAdjust="spacingAndGlyphs" x="215.3" y="1223.3" textLength="124.4">ns3::TcpSocketBase</text>
<text lengthAdjust="spacingAndGlyphs" x="229.55" y="1238.1" textLength="95.91">::ReceivedData</text>
<text lengthAdjust="spacingAndGlyphs" x="427.85" y="1181.1" textLength="171.3">ns3::TcpRxBuffer::Available</text>
<text lengthAdjust="spacingAndGlyphs" x="430.06" y="1231.35" textLength="165.88">ns3::TcpRxBuffer::Finished</text>
<text lengthAdjust="spacingAndGlyphs" x="451.05" y="1332.8" textLength="124.4">ns3::TcpSocketBase</text>
<text lengthAdjust="spacingAndGlyphs" x="469.22" y="1347.6" textLength="88.06">::DoPeerClose</text>
<text lengthAdjust="spacingAndGlyphs" x="443.67" y="1816.85" textLength="138.66">ns3::TcpRxBuffer::Add</text>
<text lengthAdjust="spacingAndGlyphs" x="720.3" y="21.05" textLength="124.4">ns3::TcpSocketBase</text>
<text lengthAdjust="spacingAndGlyphs" x="730.93" y="35.85" textLength="103.13">::GetTxAvailable</text>
<text lengthAdjust="spacingAndGlyphs" x="686.97" y="188.85" textLength="191.06">ns3::TcpTxBuffer::DiscardUpTo</text>
<text lengthAdjust="spacingAndGlyphs" x="720.3" y="290.3" textLength="124.4">ns3::TcpSocketBase</text>
<text lengthAdjust="spacingAndGlyphs" x="722.16" y="305.1" textLength="120.68">::SendPendingData</text>
<text lengthAdjust="spacingAndGlyphs" x="720.3" y="407.8" textLength="124.4">ns3::TcpSocketBase</text>
<text lengthAdjust="spacingAndGlyphs" x="736.97" y="422.6" textLength="91.05">::ReTxTimeout</text>
<text lengthAdjust="spacingAndGlyphs" x="707.15" y="474.35" textLength="150.71">ns3::Socket::NotifySend</text>
<text lengthAdjust="spacingAndGlyphs" x="720.3" y="819.8" textLength="124.4">ns3::TcpSocketBase</text>
<text lengthAdjust="spacingAndGlyphs" x="731.7" y="834.6" textLength="101.61">::PersistTimeout</text>
<text lengthAdjust="spacingAndGlyphs" x="720.3" y="1001.05" textLength="124.4">ns3::TcpSocketBase</text>
<text lengthAdjust="spacingAndGlyphs" x="721.46" y="1015.85" textLength="122.08">::SendEmptyPacket</text>
<text lengthAdjust="spacingAndGlyphs" x="691.28" y="1586.1" textLength="182.43">ns3::Simulator::GetDelayLeft</text>
<text lengthAdjust="spacingAndGlyphs" x="687.35" y="1766.3" textLength="190.3">ns3::TcpHeader::GetSequence</text>
<text lengthAdjust="spacingAndGlyphs" x="757.19" y="1781.1" textLength="50.62">Number</text>
<text lengthAdjust="spacingAndGlyphs" x="969.38" y="28.85" textLength="170.24">ns3::TcpTxBuffer::Available</text>
<text lengthAdjust="spacingAndGlyphs" x="950.6" y="239.6" textLength="208.31">ns3::TcpTxBuffer::HeadSequence</text>
<text lengthAdjust="spacingAndGlyphs" x="984.97" y="290.35" textLength="139.07">ns3::TcpTxBuffer::Size</text>
<text lengthAdjust="spacingAndGlyphs" x="990.65" y="340.85" textLength="127.7">ns3::Callback::IsNull</text>
<text lengthAdjust="spacingAndGlyphs" x="990.96" y="391.6" textLength="127.57">ns3::Simulator::Now</text>
<text lengthAdjust="spacingAndGlyphs" x="1012.5" y="442.1" textLength="83.99">ns3::Seconds</text>
<text lengthAdjust="spacingAndGlyphs" x="966.31" y="493.05" textLength="176.38">ns3::TcpTxBuffer::CopyFrom</text>
<text lengthAdjust="spacingAndGlyphs" x="1023.42" y="507.85" textLength="62.16">Sequence</text>
<text lengthAdjust="spacingAndGlyphs" x="995.64" y="558.05" textLength="117.72">ns3::Ipv6EndPoint:</text>
<text lengthAdjust="spacingAndGlyphs" x="999.73" y="572.85" textLength="109.54">:GetLocalAddress</text>
<text lengthAdjust="spacingAndGlyphs" x="995.64" y="623.8" textLength="117.72">ns3::Ipv4EndPoint:</text>
<text lengthAdjust="spacingAndGlyphs" x="1012.33" y="638.6" textLength="84.34">:GetLocalPort</text>
<text lengthAdjust="spacingAndGlyphs" x="995.64" y="689.3" textLength="117.72">ns3::Ipv6EndPoint:</text>
<text lengthAdjust="spacingAndGlyphs" x="1012.33" y="704.1" textLength="84.34">:GetLocalPort</text>
<text lengthAdjust="spacingAndGlyphs" x="995.64" y="754.3" textLength="117.72">ns3::Ipv4EndPoint:</text>
<text lengthAdjust="spacingAndGlyphs" x="1002.14" y="769.1" textLength="104.71">:GetPeerAddress</text>
<text lengthAdjust="spacingAndGlyphs" x="995.64" y="819.8" textLength="117.72">ns3::Ipv6EndPoint:</text>
<text lengthAdjust="spacingAndGlyphs" x="1002.14" y="834.6" textLength="104.71">:GetPeerAddress</text>
<text lengthAdjust="spacingAndGlyphs" x="995.64" y="884.8" textLength="117.72">ns3::Ipv4EndPoint:</text>
<text lengthAdjust="spacingAndGlyphs" x="1014.74" y="899.6" textLength="79.51">:GetPeerPort</text>
<text lengthAdjust="spacingAndGlyphs" x="995.64" y="950.8" textLength="117.72">ns3::Ipv6EndPoint:</text>
<text lengthAdjust="spacingAndGlyphs" x="1014.74" y="965.6" textLength="79.51">:GetPeerPort</text>
<text lengthAdjust="spacingAndGlyphs" x="992.3" y="1015.8" textLength="124.4">ns3::TcpSocketBase</text>
<text lengthAdjust="spacingAndGlyphs" x="1013.75" y="1030.6" textLength="81.5">::AddOptions</text>
<text lengthAdjust="spacingAndGlyphs" x="978.71" y="1081.05" textLength="124.4">ns3::TcpSocketBase</text>
<text lengthAdjust="spacingAndGlyphs" x="978.71" y="1095.85" textLength="151.58">::AdvertisedWindowSize</text>
<text lengthAdjust="spacingAndGlyphs" x="995.64" y="1146.3" textLength="117.72">ns3::Ipv4EndPoint:</text>
<text lengthAdjust="spacingAndGlyphs" x="999.73" y="1161.1" textLength="109.54">:GetLocalAddress</text>
<text lengthAdjust="spacingAndGlyphs" x="974.58" y="1211.8" textLength="159.83">ns3::TcpRxBuffer::NextRx</text>
<text lengthAdjust="spacingAndGlyphs" x="1023.42" y="1226.6" textLength="62.16">Sequence</text>
<text lengthAdjust="spacingAndGlyphs" x="975.48" y="1328.85" textLength="158.04">ns3::Simulator::Schedule</text>
<text lengthAdjust="spacingAndGlyphs" x="992.37" y="1379.55" textLength="114.5">ns3::RttEstimator:</text>
<text lengthAdjust="spacingAndGlyphs" x="992.37" y="1394.35" textLength="124.76">:RetransmitTimeout</text>
<text lengthAdjust="spacingAndGlyphs" x="989.48" y="1445.85" textLength="130.04">ns3::EventId::Cancel</text>
<text lengthAdjust="spacingAndGlyphs" x="981.89" y="1496.35" textLength="145.21">ns3::EventId::IsExpired</text>
<text lengthAdjust="spacingAndGlyphs" x="994.82" y="1598.05" textLength="119.35">ns3::SimulatorImpl</text>
<text lengthAdjust="spacingAndGlyphs" x="1009.11" y="1612.85" textLength="90.79">::GetDelayLeft</text>
<text lengthAdjust="spacingAndGlyphs" x="1238.99" y="264.85" textLength="138.03">ns3::TracedValue::Get</text>
<text lengthAdjust="spacingAndGlyphs" x="1230.11" y="391.35" textLength="155.28">ns3::SimulatorImpl::Now</text>
<text lengthAdjust="spacingAndGlyphs" x="1267.25" y="995.6" textLength="81">ns3::GetImpl</text>
<text lengthAdjust="spacingAndGlyphs" x="1237.69" y="1376.85" textLength="140.13">ns3::TcpRxBuffer::Size</text>
<text lengthAdjust="spacingAndGlyphs" x="1243.21" y="1773.85" textLength="129.09">ns3::Packet::GetSize</text>
<text lengthAdjust="spacingAndGlyphs" x="1457.06" y="1773.85" textLength="125.89">ns3::Buffer::GetSize</text>
</g>
</svg>
</body></html>
